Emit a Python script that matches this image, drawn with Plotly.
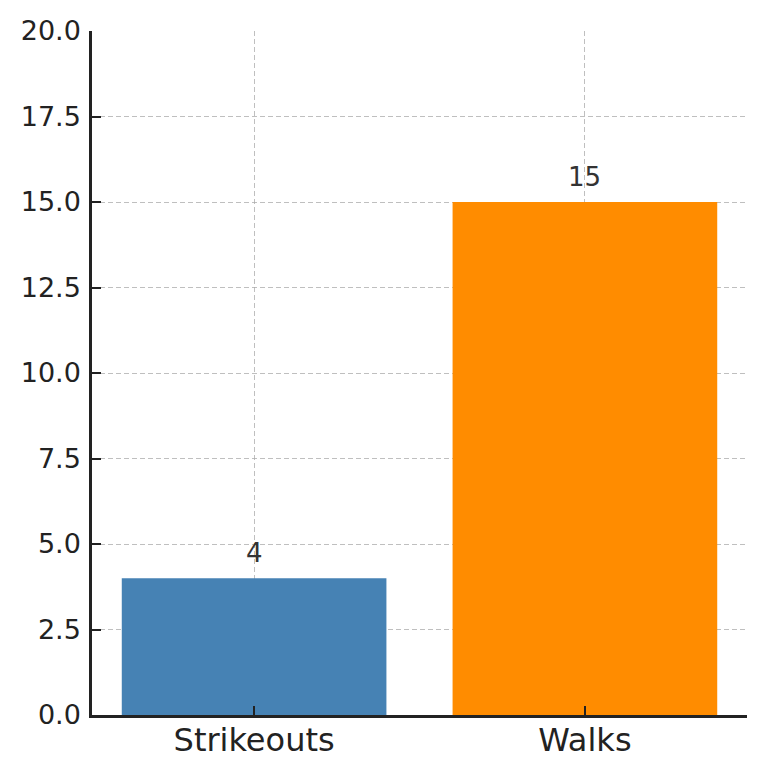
import plotly.graph_objects as go

categories = ["Strikeouts", "Walks"]
values = [4, 15]
colors = ["#4682B4", "#FF8C00"]
y_ticks = [0, 2.5, 5, 7.5, 10, 12.5, 15, 17.5, 20]
y_tick_labels = ["0.0", "2.5", "5.0", "7.5", "10.0", "12.5", "15.0", "17.5", "20.0"]

fig = go.Figure()
fig.add_trace(go.Bar(x=categories, y=values, marker=dict(color=colors, line=dict(width=0)),
                     width=0.8, showlegend=False))

for c, v in zip(categories, values):
    fig.add_annotation(x=c, y=v, text=str(v), showarrow=False, yanchor="bottom", yshift=8,
                       font=dict(family="DejaVu Sans", size=26, color="#333333"))

grid = dict(showgrid=True, gridcolor="rgba(170,170,170,0.75)", griddash="5px,3px", gridwidth=1.3)
fig.update_xaxes(range=[-0.49, 1.49], **grid, showline=True, linecolor="#222222", linewidth=2.5,
                 ticks="inside", ticklen=9, tickwidth=2, tickcolor="#222222",
                 tickfont=dict(family="DejaVu Sans", size=32, color="#222222"), layer="above traces",
                 zeroline=False, automargin=False, ticklabelstandoff=-5)
fig.update_yaxes(range=[0, 20], tickvals=y_ticks, ticktext=y_tick_labels, **grid, showline=True,
                 linecolor="#222222", linewidth=2.5, ticks="inside", ticklen=9, tickwidth=2,
                 tickcolor="#222222", tickfont=dict(family="DejaVu Sans", size=27, color="#222222"),
                 layer="above traces", zeroline=False, automargin=False, ticklabelstandoff=3)
fig.update_layout(width=767, height=778, margin=dict(l=92, r=20, t=31, b=63),
                  plot_bgcolor="white", paper_bgcolor="white", bargap=0.2)
fig.write_html("out.html")
